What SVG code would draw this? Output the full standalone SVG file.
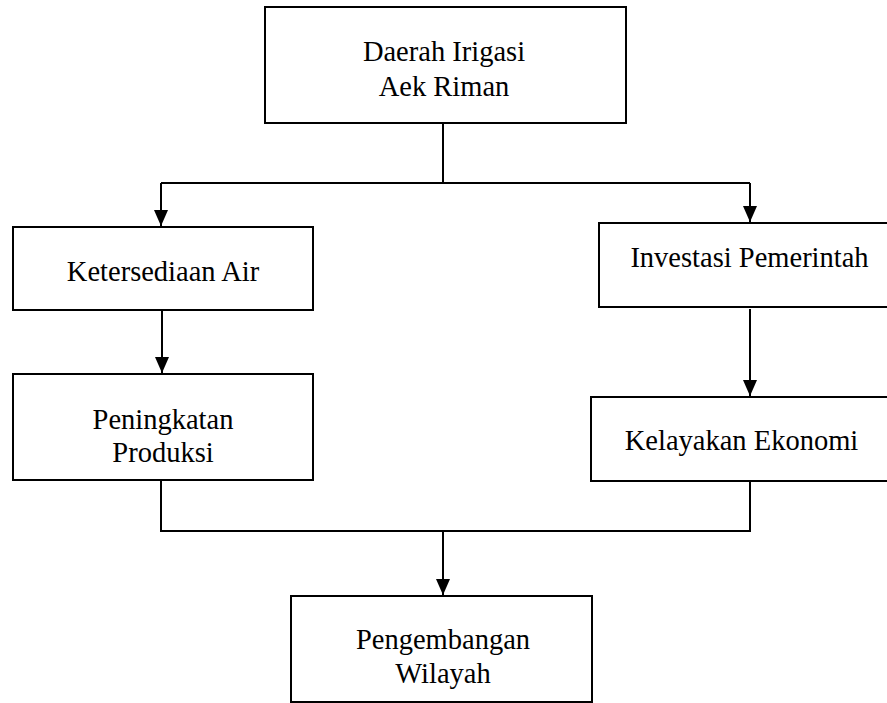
<svg xmlns="http://www.w3.org/2000/svg" width="887" height="703" viewBox="0 0 887 703">
<style>
.box{fill:#fff;stroke:#000;stroke-width:2}
.lbl{font-family:"Liberation Serif","Times New Roman",serif;font-size:28.5px;fill:#000;text-anchor:middle}
.con{fill:none;stroke:#000;stroke-width:2}
</style>
<defs>
<marker id="arr" viewBox="0 0 16 14" refX="16" refY="7" markerWidth="16" markerHeight="14" markerUnits="userSpaceOnUse" orient="auto">
<path d="M0,0 L16,7 L0,14 z" fill="#000"/>
</marker>
</defs>
<rect width="887" height="703" fill="#fff"/>
<g id="connectors">
<path class="con" d="M443 123 V183"/>
<path class="con" d="M161 183 H750"/>
<path class="con" d="M161 183 V226" marker-end="url(#arr)"/>
<path class="con" d="M750 183 V222" marker-end="url(#arr)"/>
<path class="con" d="M162 310 V373" marker-end="url(#arr)"/>
<path class="con" d="M750 309 V396" marker-end="url(#arr)"/>
<path class="con" d="M161 480 V531 H750 V481"/>
<path class="con" d="M443 530 V595" marker-end="url(#arr)"/>
</g>
<g id="n-daerah">
<rect class="box" x="265" y="7" width="361" height="116"/>
<text class="lbl" x="444" y="61">Daerah Irigasi</text>
<text class="lbl" x="444" y="95.5">Aek Riman</text>
</g>
<g id="n-ketersediaan">
<rect class="box" x="13" y="227" width="300" height="83"/>
<text class="lbl" x="163" y="281">Ketersediaan Air</text>
</g>
<g id="n-peningkatan">
<rect class="box" x="13" y="374" width="300" height="106"/>
<text class="lbl" x="163" y="429">Peningkatan</text>
<text class="lbl" x="163" y="462">Produksi</text>
</g>
<g id="n-investasi">
<rect class="box" x="599" y="223" width="295" height="84"/>
<text class="lbl" x="749.5" y="267">Investasi Pemerintah</text>
</g>
<g id="n-kelayakan">
<rect class="box" x="591" y="397" width="300" height="84"/>
<text class="lbl" x="741.5" y="450">Kelayakan Ekonomi</text>
</g>
<g id="n-pengembangan">
<rect class="box" x="291" y="596" width="301" height="106"/>
<text class="lbl" x="443" y="649">Pengembangan</text>
<text class="lbl" x="443" y="683">Wilayah</text>
</g>
</svg>
